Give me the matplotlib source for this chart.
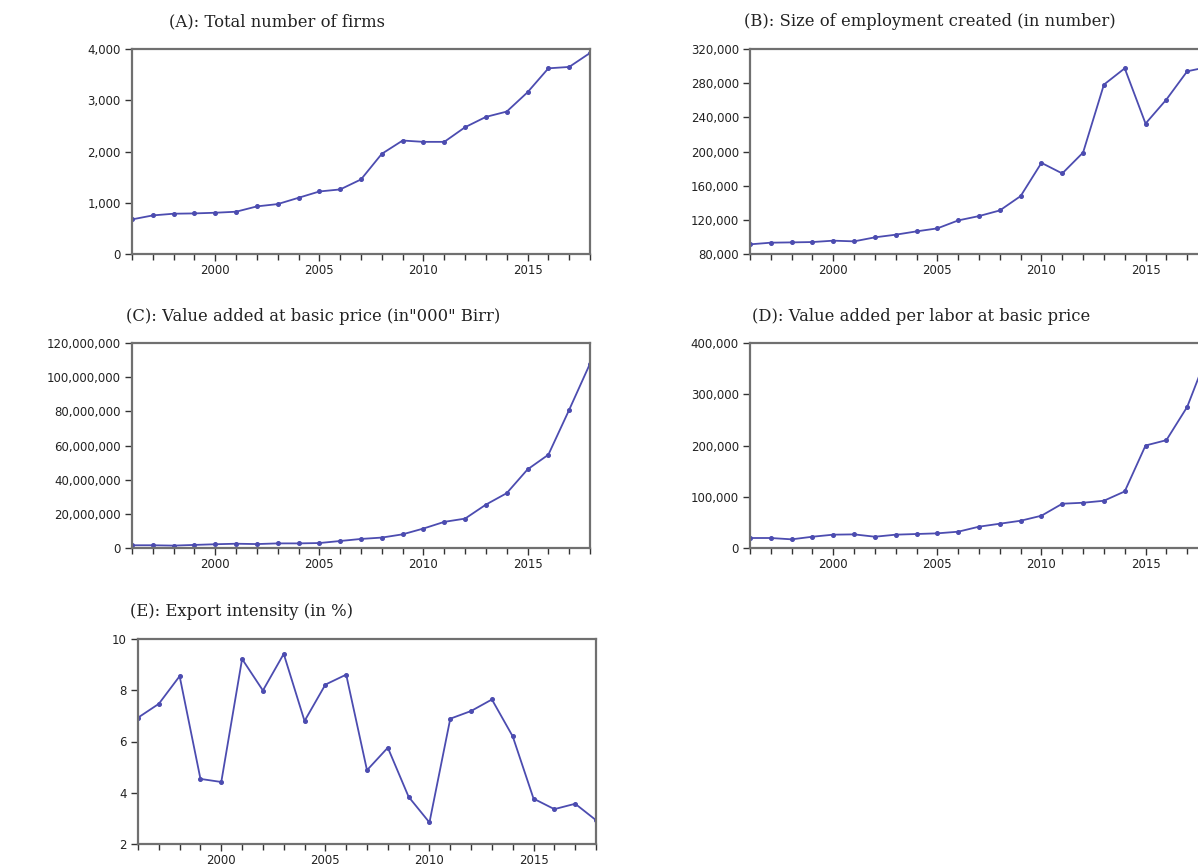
import numpy as np
import matplotlib
matplotlib.use("Agg")
import matplotlib.pyplot as plt
from matplotlib.ticker import FuncFormatter, MultipleLocator

years = list(range(1996, 2019))

# (A) total number of firms
firms = [675, 753, 786, 792, 805, 825, 929, 974, 1097, 1220, 1260, 1455,
         1955, 2214, 2188, 2188, 2474, 2675, 2779, 3156, 3623, 3650, 3922]
# (B) employment
employment = [91300, 93250, 93600, 94000, 95600, 94800, 99500, 102600, 106500,
              110000, 119300, 124400, 131000, 147800, 186700, 174300, 198800,
              278300, 297400, 232700, 260800, 293900, 299000]
# (C) value added ('000 Birr)
value_added = [1.6e6, 1.6e6, 1.4e6, 1.8e6, 2.2e6, 2.5e6, 2.3e6, 2.7e6, 2.7e6,
               2.9e6, 4.1e6, 5.3e6, 6.1e6, 8.0e6, 11.4e6, 15.3e6, 17.2e6,
               25.4e6, 32.1e6, 46.0e6, 54.6e6, 80.9e6, 107.9e6]
# (D) value added per labor
va_per_labor = [19500, 19500, 16900, 22000, 26000, 26600, 22000, 26000, 27300,
                28600, 31800, 41600, 47400, 53200, 63000, 86400, 88300, 92200,
                110400, 200000, 210400, 275300, 380000]
# (E) export intensity
export_int = [6.93, 7.47, 8.55, 4.54, 4.42, 9.22, 7.99, 9.42, 6.80, 8.22, 8.61,
              4.88, 5.76, 3.84, 2.84, 6.89, 7.19, 7.64, 6.20, 3.77, 3.36, 3.57,
              2.93]

titles = ["(A): Total number of firms",
          "(B): Size of employment created (in number)",
          "(C): Value added at basic price (in\"000\" Birr)",
          "(D): Value added per labor at basic price",
          "(E): Export intensity (in %)"]

W, H = 1198, 868
fig = plt.figure(figsize=(W / 100, H / 100), dpi=100)

def box(left, top):
    return [left / W, 1 - (top + 205) / H, 458 / W, 205 / H]

panels = [
    (box(132, 49), firms, (0, 4000), 1000, 0.317),
    (box(750, 49), employment, (80000, 320000), 40000, 0.393),
    (box(132, 343), value_added, (0, 120e6), 20e6, 0.395),
    (box(750, 343), va_per_labor, (0, 400000), 100000, 0.373),
    (box(138, 639), export_int, (2, 10), 2, 0.227),
]

line_col = "#4c4cb0"
for i, (rect, vals, ylim, step, tx) in enumerate(panels):
    ax = fig.add_axes(rect)
    ax.plot(years, vals, color=line_col, lw=1.3, marker="o", ms=2.6,
            mfc=line_col, mec=line_col)
    ax.set_xlim(1996, 2018)
    ax.set_ylim(*ylim)
    ax.yaxis.set_major_locator(MultipleLocator(step))
    ax.yaxis.set_major_formatter(FuncFormatter(lambda v, p: f"{v:,.0f}"))
    ax.set_xticks([2000, 2005, 2010, 2015])
    ax.xaxis.set_minor_locator(MultipleLocator(1))
    for s in ax.spines.values():
        s.set_color("#707070")
        s.set_linewidth(1.6)
    ax.tick_params(axis="both", which="both", direction="out", color="#333333",
                   labelsize=8.5, labelcolor="#222222")
    ax.tick_params(axis="both", which="major", length=5, width=1)
    ax.tick_params(axis="x", which="minor", length=4, width=1)
    ax.tick_params(axis="x", pad=2.5)
    ax.tick_params(axis="y", pad=3)
    ax.text(tx, 1.0 + 27 / 205, titles[i], transform=ax.transAxes,
            ha="center", va="center", fontsize=11.8, family="DejaVu Serif",
            color="#222222")

fig.savefig("out.png", dpi=100)
